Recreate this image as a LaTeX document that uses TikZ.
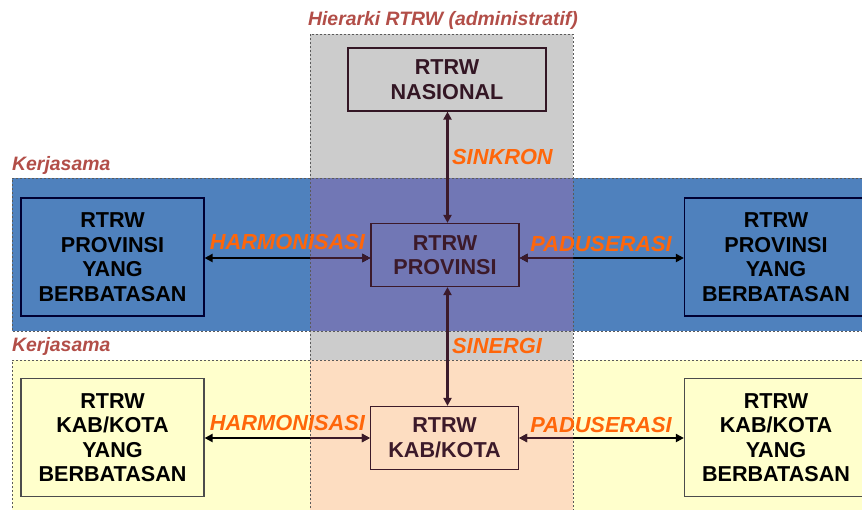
\documentclass[tikz,border=0pt]{standalone}
\usepackage{fontspec}
\setmainfont{Liberation Sans}
\usetikzlibrary{arrows.meta}

\definecolor{colgray}{RGB}{204,204,204}
\definecolor{provblue}{RGB}{79,129,189}
\definecolor{provmix}{RGB}{113,119,181}
\definecolor{kabyellow}{RGB}{255,255,204}
\definecolor{kabmix}{RGB}{253,221,193}
\definecolor{relorange}{RGB}{255,102,10}
\definecolor{titlered}{RGB}{178,78,72}
\definecolor{darkmaroon}{RGB}{60,26,42}
\definecolor{dashgray}{RGB}{90,90,90}

\tikzset{rbox/.style = {draw,
                        line width = 1.2pt,
                        inner sep = 0pt,
                        align = center,
                        font = \fontsize{21.6}{24.5}\selectfont\bfseries},
         sidebox/.style = {rbox,
                           minimum width = 183pt,
                           minimum height = 118pt},
         midbox/.style = {rbox,
                          color = darkmaroon,
                          minimum width = 148pt,
                          minimum height = 63pt},
         rel/.style = {text = relorange,
                       inner sep = 0pt,
                       font = \fontsize{21.8}{24}\selectfont\bfseries\itshape},
         grouplabel/.style = {text = titlered,
                              inner sep = 0pt,
                              font = \fontsize{19.4}{22}\selectfont\bfseries\itshape},
         zone/.style = {draw = dashgray,
                        line width = 0.8pt,
                        dash pattern = on 2pt off 2pt}}

\begin{document}
\begin{tikzpicture}[x=1pt, y=-1pt,
                    link/.style = {line width = 2.6pt,
                                   {Triangle[length=8pt,width=8pt]}-{Triangle[length=8pt,width=8pt]}}]
    \useasboundingbox (0,0) rectangle (862,509);
    \clip (0,0) rectangle (862,509);

    % background zones
    \fill[colgray] (310,34) rectangle (573,512);
    \fill[provblue] (12,178) rectangle (866,331);
    \fill[kabyellow] (12,360) rectangle (866,512);
    \fill[provmix] (310,178) rectangle (573,331);
    \fill[kabmix] (310,360) rectangle (573,512);
    \draw[zone] (310,512) -- (310,34) -- (573,34) -- (573,512);
    \draw[zone] (866,178) -- (12,178) -- (12,331) -- (866,331);
    \draw[zone] (866,360) -- (12,360) -- (12,512);

    \node[grouplabel] (hierarki) at (443,20) {Hierarki RTRW (administratif)};
    \node[grouplabel, anchor=west] (kerja1) at (12,165) {Kerjasama};
    \node[grouplabel, anchor=west] (kerja2) at (12,346) {Kerjasama};

    % boxes
    \node[rbox, color=darkmaroon!85!black, minimum width=198pt, minimum height=63pt] (nasional) at (447,79.5) {RTRW\\NASIONAL};
    \node[midbox] (prov) at (445,255) {RTRW\\PROVINSI};
    \node[midbox] (kab) at (444.5,438) {RTRW\\KAB/KOTA};
    \node[sidebox, draw=black!80!blue] (provL) at (112.5,257) {RTRW\\PROVINSI\\YANG\\BERBATASAN};
    \node[sidebox, draw=black!80!blue] (provR) at (776,257) {RTRW\\PROVINSI\\YANG\\BERBATASAN};
    \node[sidebox, draw=black!70] (kabL) at (112.5,437.5) {RTRW\\KAB/KOTA\\YANG\\BERBATASAN};
    \node[sidebox, draw=black!70] (kabR) at (776,437.5) {RTRW\\KAB/KOTA\\YANG\\BERBATASAN};

    % relations
    \draw[link, darkmaroon] (nasional.south -| 447.5,0) -- (prov.north -| 447.5,0);
    \draw[link, darkmaroon] (prov.south -| 447.5,0) -- (kab.north -| 447.5,0);
    \draw[link] (provL.east |- 0,258) -- (prov.west |- 0,258);
    \draw[link] (prov.east |- 0,258) -- (provR.west |- 0,258);
    \draw[link] (kabL.east |- 0,438) -- (kab.west |- 0,438);
    \draw[link] (kab.east |- 0,438) -- (kabR.west |- 0,438);
    \begin{scope}
        \clip (310,178) rectangle (573,512);
        \draw[link, darkmaroon] (provL.east |- 0,258) -- (prov.west |- 0,258);
        \draw[link, darkmaroon] (prov.east |- 0,258) -- (provR.west |- 0,258);
        \draw[link, darkmaroon] (kabL.east |- 0,438) -- (kab.west |- 0,438);
        \draw[link, darkmaroon] (kab.east |- 0,438) -- (kabR.west |- 0,438);
    \end{scope}

    \node[rel, anchor=west] (sinkron) at (452,157) {SINKRON};
    \node[rel, anchor=west] (sinergi) at (452,346) {SINERGI};
    \node[rel] (harmoP) at (287.5,242) {HARMONISASI};
    \node[rel] (paduP) at (601,244) {PADUSERASI};
    \node[rel] (harmoK) at (287.5,423) {HARMONISASI};
    \node[rel] (paduK) at (601,425) {PADUSERASI};
\end{tikzpicture}
\end{document}
